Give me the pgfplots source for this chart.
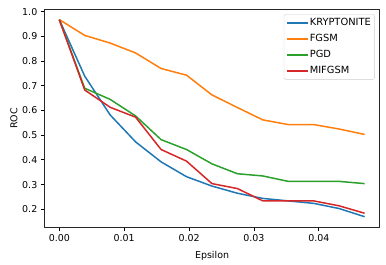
\documentclass[border=0pt]{standalone}
\usepackage{pgfplots}
\pgfplotsset{compat=1.18}
\usepackage{fontspec}
\setmainfont{DejaVu Sans}
\definecolor{c0}{HTML}{1F77B4}
\definecolor{c1}{HTML}{FF7F0E}
\definecolor{c2}{HTML}{2CA02C}
\definecolor{c3}{HTML}{D62728}
\begin{document}
\begin{tikzpicture}
\begin{axis}[
  at={(0,0)}, anchor=south west,
  scale only axis, width=335.5bp, height=218.4bp,
  xmin=-0.00231, xmax=0.0494,
  ymin=0.1255, ymax=1.0097,
  font=\fontsize{9.5}{11}\selectfont,
  /pgf/number format/assume math mode=true,
  xtick={0,0.01,0.02,0.03,0.04},
  ytick={0.2,0.3,0.4,0.5,0.6,0.7,0.8,0.9,1.0},
  xticklabel style={/pgf/number format/.cd,fixed,fixed zerofill,precision=2},
  yticklabel style={/pgf/number format/.cd,fixed,fixed zerofill,precision=1},
  scaled x ticks=false,
  tick align=outside, major tick length=3.5bp,
  xtick pos=bottom, ytick pos=left,
  tick style={black, line width=0.8bp},
  axis line style={line width=0.8bp, black!85},
  xlabel={Epsilon}, ylabel={ROC},
  xlabel style={yshift=-3bp},
  ylabel style={yshift=-2bp},
  legend cell align=left,
  legend style={at={(1,1)}, anchor=north east, xshift=-5bp, yshift=-5bp,
    draw=black!20, rounded corners=2bp, font=\fontsize{9.9}{11}\selectfont,
    inner sep=2.5bp, row sep=4.1bp,
    nodes={inner sep=1.3bp, text height=7.3bp, text depth=2bp}},
  legend image code/.code={\draw[#1] (0bp,0.1bp) -- (20.5bp,0.1bp);},
  every axis plot/.append style={line width=1.5bp},
]
\addplot[c0] coordinates {(0,0.968) (0.00392,0.739) (0.00784,0.582) (0.01176,0.473) (0.01569,0.392) (0.01961,0.332) (0.02353,0.294) (0.02745,0.265) (0.03137,0.244) (0.03529,0.234) (0.03922,0.224) (0.04314,0.203) (0.04706,0.170)};
\addlegendentry{KRYPTONITE}
\addplot[c1] coordinates {(0,0.968) (0.00392,0.904) (0.00784,0.873) (0.01176,0.833) (0.01569,0.770) (0.01961,0.743) (0.02353,0.663) (0.02745,0.612) (0.03137,0.562) (0.03529,0.543) (0.03922,0.543) (0.04314,0.525) (0.04706,0.503)};
\addlegendentry{FGSM}
\addplot[c2] coordinates {(0,0.968) (0.00392,0.690) (0.00784,0.645) (0.01176,0.578) (0.01569,0.482) (0.01961,0.442) (0.02353,0.384) (0.02745,0.344) (0.03137,0.335) (0.03529,0.313) (0.03922,0.313) (0.04314,0.313) (0.04706,0.304)};
\addlegendentry{PGD}
\addplot[c3] coordinates {(0,0.968) (0.00392,0.683) (0.00784,0.613) (0.01176,0.573) (0.01569,0.442) (0.01961,0.395) (0.02353,0.304) (0.02745,0.284) (0.03137,0.234) (0.03529,0.234) (0.03922,0.234) (0.04314,0.214) (0.04706,0.184)};
\addlegendentry{MIFGSM}
\end{axis}
\pgfresetboundingbox
\path[use as bounding box] (-44.3bp,-37.3bp) rectangle (341.7bp,227.7bp);
\end{tikzpicture}
\end{document}
